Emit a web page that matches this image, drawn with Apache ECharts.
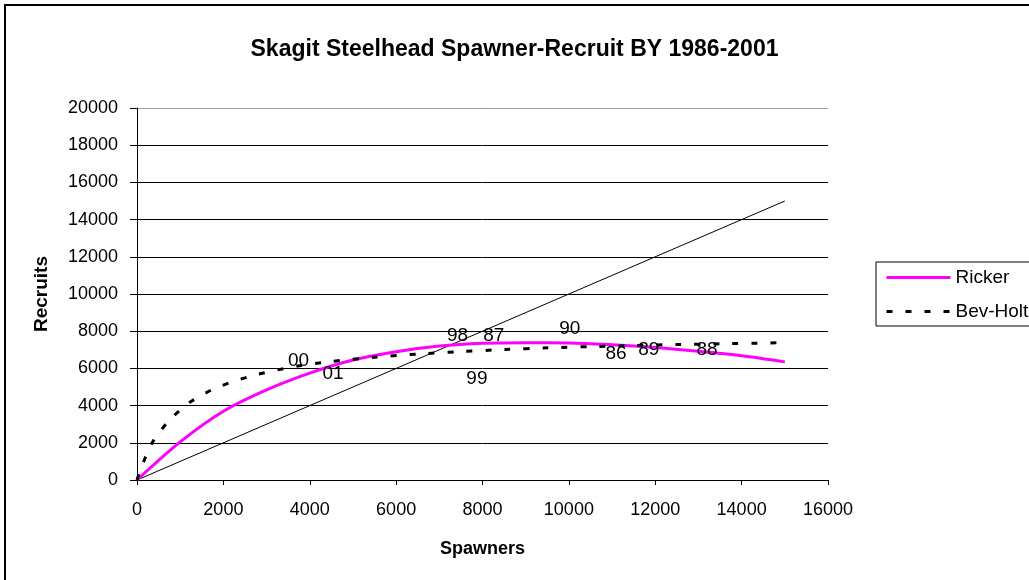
<!DOCTYPE html>
<html>
<head>
<meta charset="utf-8">
<script src="https://cdn.jsdelivr.net/npm/echarts@6/dist/echarts.min.js"></script>
<style>
html,body{margin:0;padding:0;background:#fff;}
#c{width:1029px;height:580px;}
</style>
</head>
<body>
<div id="c"></div>
<script>
// ---- data ----
const titleText = 'Skagit Steelhead Spawner-Recruit BY 1986-2001';
const xAxisName = 'Spawners';
const yAxisName = 'Recruits';

// replacement (1:1) line
const replS = [0, 15000];
const replR = [0, 15000];

// Ricker curve
const rickerS = [0, 1000, 2000, 3000, 4000, 5000, 6000, 7000, 8000, 9000, 10000, 11000, 12000, 13000, 14000, 15000];
const rickerR = [0, 2050, 3700, 4850, 5750, 6450, 6900, 7200, 7350, 7380, 7370, 7270, 7120, 6920, 6680, 6350];

// Beverton-Holt curve
const bhS = [0, 250, 500, 1000, 1500, 2000, 2500, 3000, 3500, 4000, 5000, 6000, 7000, 8000, 9000, 10000, 11000, 12000, 13000, 14000, 15000];
const bhR = [0, 1500, 2500, 3760, 4560, 5100, 5490, 5790, 6030, 6230, 6490, 6690, 6840, 6960, 7060, 7140, 7200, 7260, 7300, 7345, 7380];

// brood-year labels (position of each label)
const yearLabels = ['00', '01', '98', '87', '90', '99', '86', '89', '88'];
const yearS = [3740, 4540, 7420, 8260, 10020, 7870, 11090, 11850, 13200];
const yearR = [6410, 5700, 7780, 7740, 8110, 5430, 6810, 6990, 7025];

const xMin = 0, xMax = 16000, xStep = 2000;
const yMin = 0, yMax = 20000, yStep = 2000;

// ---- build chart ----
const FONT = '"Liberation Sans", Arial, sans-serif';
const zip = (a, b) => a.map((v, i) => [v, b[i]]);

const gridColors = [];
for (let v = yMin; v <= yMax; v += yStep) gridColors.push(v === yMax ? '#9a9a9a' : '#000000');

const chart = echarts.init(document.getElementById('c'), null, {renderer: 'canvas'});
chart.setOption({
  animation: false,
  backgroundColor: '#ffffff',
  textStyle: {fontFamily: FONT},
  title: {
    text: titleText,
    left: 'center',
    top: 33,
    textStyle: {fontFamily: FONT, fontSize: 23, fontWeight: 'bold', color: '#000'}
  },
  graphic: [{
    type: 'rect',
    shape: {x: 5, y: 5, width: 1200, height: 800},
    style: {fill: null, stroke: '#000', lineWidth: 2},
    silent: true
  }],
  legend: {
    orient: 'vertical',
    left: 876,
    top: 262,
    padding: [6, 12, 5, 9],
    itemGap: 15,
    itemWidth: 64,
    itemHeight: 14,
    borderColor: '#000',
    borderWidth: 1,
    backgroundColor: '#fff',
    itemStyle: {opacity: 0},
    lineStyle: {width: 3},
    data: ['Ricker', 'Bev-Holt'],
    textStyle: {fontFamily: FONT, fontSize: 19, color: '#000'}
  },
  grid: {left: 137, right: 201, top: 108, bottom: 100, containLabel: false},
  xAxis: {
    type: 'value',
    min: xMin, max: xMax, interval: xStep,
    name: xAxisName,
    nameLocation: 'middle',
    nameGap: 60,
    nameTextStyle: {fontFamily: FONT, fontSize: 18, fontWeight: 'bold', color: '#000'},
    axisLine: {show: true, onZero: false, lineStyle: {color: '#000', width: 1}},
    axisTick: {show: true, inside: false, length: 5, lineStyle: {color: '#000'}},
    axisLabel: {fontFamily: FONT, fontSize: 18, color: '#000', margin: 21, formatter: v => String(v)},
    splitLine: {show: false}
  },
  yAxis: {
    type: 'value',
    min: yMin, max: yMax, interval: yStep,
    name: yAxisName,
    nameLocation: 'middle',
    nameRotate: 90,
    nameGap: 86,
    nameTextStyle: {fontFamily: FONT, fontSize: 19, fontWeight: 'bold', color: '#000'},
    axisLine: {show: true, onZero: false, lineStyle: {color: '#000', width: 1}},
    axisTick: {show: true, inside: false, length: 7, lineStyle: {color: '#000'}},
    axisLabel: {fontFamily: FONT, fontSize: 18, color: '#000', margin: 19, formatter: v => String(v)},
    splitLine: {show: true, lineStyle: {color: gridColors, width: 1}}
  },
  series: [
    {
      name: 'Replacement',
      type: 'line',
      data: zip(replS, replR),
      symbol: 'none',
      lineStyle: {color: '#000', width: 1},
      z: 2
    },
    {
      name: 'Ricker',
      type: 'line',
      data: zip(rickerS, rickerR),
      symbol: 'none',
      smooth: 0.3,
      itemStyle: {color: '#ff00ff'},
      lineStyle: {color: '#ff00ff', width: 3},
      z: 3
    },
    {
      name: 'Bev-Holt',
      type: 'line',
      data: zip(bhS, bhR),
      symbol: 'none',
      smooth: true,
      itemStyle: {color: '#000'},
      lineStyle: {color: '#000', width: 3, type: [6, 13], cap: 'butt'},
      z: 4
    },
    {
      name: 'Years',
      type: 'scatter',
      data: yearS.map((s, i) => ({name: yearLabels[i], value: [s, yearR[i]]})),
      symbol: 'circle',
      symbolSize: 0,
      itemStyle: {color: '#000', opacity: 1},
      emphasis: {disabled: true},
      label: {
        show: true,
        position: 'inside',
        formatter: p => p.name,
        fontFamily: FONT,
        fontSize: 19,
        color: '#000',
        opacity: 1,
        textBorderWidth: 0
      },
      z: 5
    }
  ]
});
</script>
</body>
</html>
